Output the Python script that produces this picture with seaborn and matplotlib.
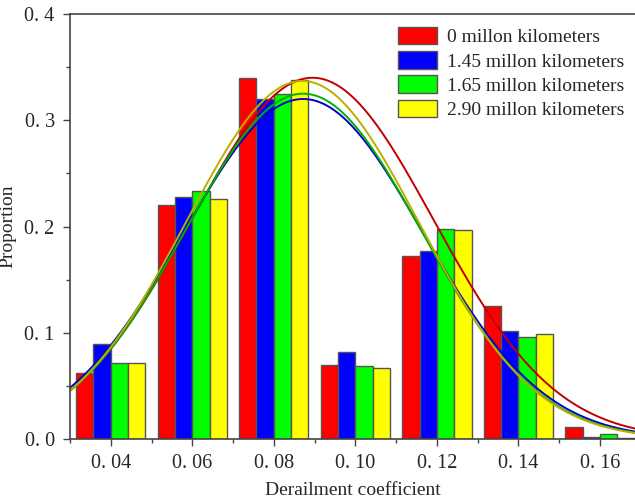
import numpy as np
import pandas as pd
import matplotlib
matplotlib.use("Agg")
import matplotlib.pyplot as plt
import seaborn as sns
from matplotlib.patches import Patch
from matplotlib.ticker import MultipleLocator

# bar data
coef = [0.04, 0.06, 0.08, 0.10, 0.12, 0.14, 0.16]
mileage = ["0 millon kilometers", "1.45 millon kilometers",
           "1.65 millon kilometers", "2.90 millon kilometers"]
p_0 = [0.062, 0.220, 0.340, 0.070, 0.172, 0.125, 0.011]
p_145 = [0.089, 0.228, 0.320, 0.082, 0.177, 0.102, 0.002]
p_165 = [0.072, 0.233, 0.325, 0.069, 0.198, 0.096, 0.005]
p_290 = [0.072, 0.226, 0.338, 0.067, 0.197, 0.099, 0.001]

# fitted normal curves (peak, mean, std)
fit_peak = [0.340, 0.320, 0.325, 0.337]
fit_mean = [0.0895, 0.0872, 0.0872, 0.0870]
fit_std = [0.0297, 0.0294, 0.0288, 0.0285]

bar_colors = ["#ff0000", "#0000ff", "#00ff00", "#ffff00"]
line_colors = ["#c00000", "#0000d0", "#00b000", "#b8b000"]

sns.set_style("ticks")
plt.rcParams["font.family"] = ["Liberation Serif", "DejaVu Serif"]

df = pd.DataFrame({
    "coef": coef * 4,
    "prop": p_0 + p_145 + p_165 + p_290,
    "mileage": np.repeat(mileage, len(coef)),
})

fig = plt.figure(figsize=(6.35, 5.01), dpi=100)
ax = fig.add_axes([70 / 635, 1 - 439 / 501, 1 - 70 / 635, (439 - 14) / 501])

sns.barplot(data=df, x="coef", y="prop", hue="mileage", hue_order=mileage,
            palette=bar_colors, native_scale=True, width=0.85, gap=0,
            saturation=1, edgecolor="#555555", linewidth=1, legend=False, ax=ax)

xs = np.linspace(0.028, 0.172, 400)
curves = []
for lab, a, m, s in zip(mileage, fit_peak, fit_mean, fit_std):
    curves.append(pd.DataFrame({"x": xs, "y": a * np.exp(-(xs - m) ** 2 / (2 * s ** 2)), "mileage": lab}))
curves = pd.concat(curves)
sns.lineplot(data=curves, x="x", y="y", hue="mileage", hue_order=mileage,
             palette=line_colors, linewidth=1.4, legend=False, ax=ax)

ax.set_xlim(0.0302, 0.1686)
ax.set_ylim(0, 0.4)
ax.set_xticks(coef)
ax.set_xticklabels(["0. 04", "0. 06", "0. 08", "0. 10", "0. 12", "0. 14", "0. 16"])
ax.set_xticks([0.03, 0.05, 0.07, 0.09, 0.11, 0.13, 0.15], minor=True)
ax.set_yticks([0, 0.1, 0.2, 0.3, 0.4])
ax.set_yticklabels(["0. 0", "0. 1", "0. 2", "0. 3", "0. 4"])
ax.yaxis.set_minor_locator(MultipleLocator(0.05))
ax.tick_params(which="major", length=5, width=1, color="#444444", labelsize=14.5, pad=6)
ax.tick_params(which="minor", length=3, width=1, color="#444444")

for side in ["left", "top", "bottom"]:
    ax.spines[side].set_color("#444444")
    ax.spines[side].set_linewidth(1.2)
ax.spines["right"].set_visible(False)

ax.set_xlabel("Derailment coefficient", fontsize=14, labelpad=6)
ax.set_ylabel("Proportion", fontsize=14, labelpad=6)

handles = [Patch(facecolor=c, edgecolor="#555555", linewidth=1) for c in bar_colors]
ax.legend(handles, mileage, loc="upper left", bbox_to_anchor=(398 / 635, 1 - 27 / 501),
          bbox_transform=fig.transFigure, frameon=False, fontsize=14, borderpad=0,
          handlelength=2.0, handleheight=1.0, handletextpad=0.5, labelspacing=0.25,
          borderaxespad=0)

fig.savefig("out.png", dpi=100)
